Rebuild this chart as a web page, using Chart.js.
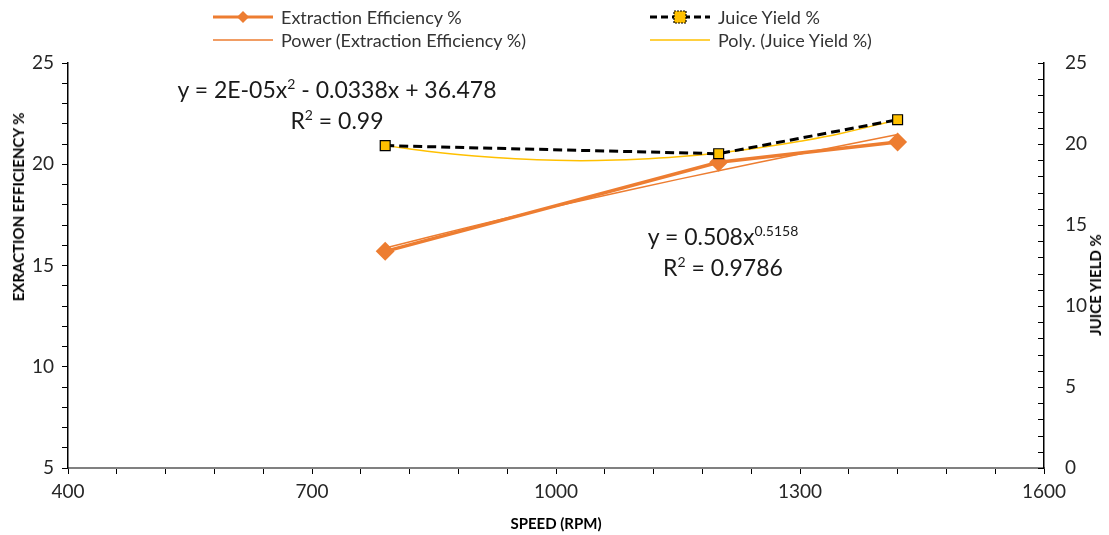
<!DOCTYPE html>
<html>
<head>
<meta charset="utf-8">
<script src="https://cdn.jsdelivr.net/npm/chart.js@4.4.1/dist/chart.umd.min.js"></script>
<style>
	body { margin: 0; background: #fff; }
	#wrap { position: relative; width: 1109px; height: 535px; }
	.lg { position: absolute; display: flex; align-items: center; font: 18px Lato, sans-serif; color: #333; white-space: nowrap; }
	.lg svg { margin-right: 8px; }
	.eq { position: absolute; font: 23px Lato, sans-serif; color: #1a1a1a; white-space: nowrap; text-align: center; transform: translate(-50%, -50%); }
	.eq sup { font-size: 14px; vertical-align: 9px; line-height: 0; }
	.ax { position: absolute; font: bold 15px Lato, sans-serif; color: #000; white-space: nowrap; transform: translate(-50%, -50%); }
	.ax.rot { transform: translate(-50%, -50%) rotate(-90deg); }
</style>
</head>
<body>
<div id="wrap">
	<canvas id="chart" width="1109" height="535"></canvas>

	<div class="lg" style="left:213px; top:6px;">
		<svg width="60" height="18"><line x1="0" y1="9" x2="60" y2="9" stroke="#ED7D31" stroke-width="3"/><polygon points="30,3 36,9 30,15 24,9" fill="#ED7D31"/></svg>
		Extraction Efficiency %
	</div>
	<div class="lg" style="left:650px; top:6px;">
		<svg width="60" height="18"><line x1="0" y1="9" x2="60" y2="9" stroke="#000" stroke-width="3" stroke-dasharray="7,4"/><rect x="24" y="3" width="12" height="12" fill="#FFC000" stroke="#000" stroke-width="1.2" stroke-dasharray="2,1"/></svg>
		Juice Yield %
	</div>
	<div class="lg" style="left:213px; top:29px;">
		<svg width="60" height="18"><line x1="0" y1="9" x2="60" y2="9" stroke="#ED7D31" stroke-width="1.5"/></svg>
		Power (Extraction Efficiency %)
	</div>
	<div class="lg" style="left:650px; top:29px;">
		<svg width="60" height="18"><line x1="0" y1="9" x2="60" y2="9" stroke="#FFC000" stroke-width="1.5"/></svg>
		Poly. (Juice Yield %)
	</div>

	<div class="eq" style="left:337px; top:89px;">y = 2E-05x<sup>2</sup> - 0.0338x + 36.478</div>
	<div class="eq" style="left:337px; top:120px;">R<sup>2</sup> = 0.99</div>
	<div class="eq" style="left:723px; top:236px;">y = 0.508x<sup>0.5158</sup></div>
	<div class="eq" style="left:723px; top:267px;">R<sup>2</sup> = 0.9786</div>

	<div class="ax rot" style="left:18px; top:207px;">EXRACTION EFFICIENCY %</div>
	<div class="ax rot" style="left:1095px; top:285px;">JUICE YIELD %</div>
	<div class="ax" style="left:556px; top:523px;">SPEED (RPM)</div>
</div>

<script>
// Data
const speeds = [790, 1200, 1420];
const extractionEff = [15.7, 20.1, 21.1];
const juiceYield = [19.9, 19.4, 21.5];

// Trendlines as drawn in the picture
const powerFitX = [790, 900, 1000, 1100, 1200, 1300, 1420];
const powerFitY = [15.86, 16.97, 17.92, 18.82, 19.68, 20.51, 21.47];
const polyFitX = [790, 850, 900, 950, 1000, 1050, 1100, 1150, 1200, 1250, 1300, 1350, 1420];
const polyFitY = [19.9, 19.5, 19.26, 19.09, 18.99, 18.98, 19.06, 19.21, 19.45, 19.77, 20.17, 20.65, 21.5];

// Axis ticks
const xMajor = [400, 700, 1000, 1300, 1600];
const leftMajor = [5, 10, 15, 20, 25];
const rightMajor = [0, 5, 10, 15, 20, 25];

const ORANGE = '#ED7D31';
const GOLD = '#FFC000';
const TICK_COLOR = '#262626';
const TICK_FONT = { family: 'Lato, sans-serif', size: 19 };

function toPoints(xs, ys) {
	return xs.map((x, i) => ({ x, y: ys[i] }));
}

function stepTicks(from, to, step) {
	return (s) => {
		const ticks = [];
		for (let v = from; v <= to; v += step) ticks.push({ value: v });
		s.ticks = ticks;
	};
}

// right axis tick marks point into the plot area
const innerTicks = {
	id: 'innerTicks',
	afterDraw(chart) {
		const s = chart.scales.y1;
		const ctx = chart.ctx;
		ctx.save();
		ctx.strokeStyle = '#000';
		ctx.lineWidth = 1;
		s.ticks.forEach((t) => {
			const y = Math.round(s.getPixelForValue(t.value)) + 0.5;
			ctx.beginPath();
			ctx.moveTo(s.left - 6, y);
			ctx.lineTo(s.left, y);
			ctx.stroke();
		});
		ctx.restore();
	},
};

new Chart(document.getElementById('chart'), {
	type: 'scatter',
	data: {
		datasets: [
			{
				label: 'Juice Yield %',
				data: toPoints(speeds, juiceYield),
				yAxisID: 'y1',
				showLine: true,
				borderColor: '#000',
				borderWidth: 3,
				borderDash: [9, 5],
				pointStyle: 'rect',
				pointRadius: 7,
				pointBackgroundColor: GOLD,
				pointBorderColor: '#000',
				pointBorderWidth: 1.2,
				order: 1,
			},
			{
				label: 'Poly. (Juice Yield %)',
				data: toPoints(polyFitX, polyFitY),
				yAxisID: 'y1',
				showLine: true,
				borderColor: GOLD,
				borderWidth: 1.5,
				pointRadius: 0,
				tension: 0.4,
				order: 2,
			},
			{
				label: 'Extraction Efficiency %',
				data: toPoints(speeds, extractionEff),
				yAxisID: 'y',
				showLine: true,
				borderColor: ORANGE,
				borderWidth: 3.5,
				pointStyle: 'rectRot',
				pointRadius: 7,
				pointBackgroundColor: ORANGE,
				pointBorderColor: ORANGE,
				order: 3,
			},
			{
				label: 'Power (Extraction Efficiency %)',
				data: toPoints(powerFitX, powerFitY),
				yAxisID: 'y',
				showLine: true,
				borderColor: ORANGE,
				borderWidth: 1.5,
				pointRadius: 0,
				tension: 0.3,
				order: 4,
			},
		],
	},
	options: {
		responsive: false,
		animation: false,
		layout: { padding: { top: 63, left: 0, right: 0, bottom: 0 } },
		plugins: { legend: { display: false }, tooltip: { enabled: false } },
		scales: {
			x: {
				type: 'linear',
				min: 400,
				max: 1600,
				afterBuildTicks: stepTicks(400, 1600, 60),
				afterFit: (s) => { s.height = 67; },
				ticks: {
					autoSkip: false,
					maxRotation: 0,
					color: TICK_COLOR,
					font: TICK_FONT,
					padding: 6,
					callback: (v) => (xMajor.includes(v) ? v : ''),
				},
				grid: { drawOnChartArea: false, tickLength: 6, color: '#000' },
				border: { color: '#808080', width: 2 },
			},
			y: {
				position: 'left',
				min: 5,
				max: 25,
				afterBuildTicks: stepTicks(5, 25, 1),
				afterFit: (s) => { s.width = 68; },
				ticks: {
					autoSkip: false,
					color: TICK_COLOR,
					font: TICK_FONT,
					padding: 8,
					callback: (v) => (leftMajor.includes(v) ? v : ''),
				},
				grid: { drawOnChartArea: false, tickLength: 6, color: '#000' },
				border: { color: '#000', width: 1.5 },
			},
			y1: {
				position: 'right',
				min: 0,
				max: 25,
				afterBuildTicks: stepTicks(0, 25, 1),
				afterFit: (s) => { s.width = 65; },
				ticks: {
					autoSkip: false,
					color: TICK_COLOR,
					font: TICK_FONT,
					padding: 13,
					callback: (v) => (rightMajor.includes(v) ? v : ''),
				},
				grid: { display: false },
				border: { display: true, color: '#000', width: 1.5 },
			},
		},
	},
	plugins: [innerTicks],
});
</script>
</body>
</html>
